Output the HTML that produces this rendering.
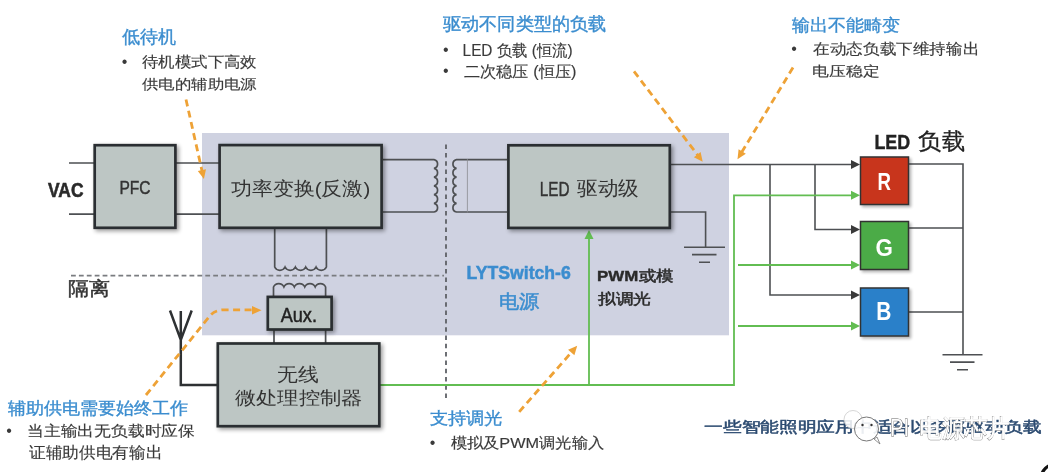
<!DOCTYPE html>
<html><head><meta charset="utf-8">
<style>
html,body{margin:0;padding:0;background:#fff;}
body{width:1048px;height:472px;position:relative;overflow:hidden;font-family:"Liberation Sans",sans-serif;}
svg{position:absolute;left:0;top:0;font-family:"Liberation Sans",sans-serif;filter:blur(0.3px);}
</style></head><body>
<svg width="1048" height="472" viewBox="0 0 1048 472">
<defs>
<filter id="sh" x="-10%" y="-10%" width="130%" height="130%">
<feGaussianBlur in="SourceAlpha" stdDeviation="2"/><feOffset dx="1.8" dy="2.2"/>
<feComponentTransfer><feFuncA type="linear" slope="0.4"/></feComponentTransfer>
<feMerge><feMergeNode/><feMergeNode in="SourceGraphic"/></feMerge></filter>
<filter id="sh2" x="-10%" y="-10%" width="130%" height="130%">
<feGaussianBlur in="SourceAlpha" stdDeviation="1.4"/><feOffset dx="1.5" dy="1.5"/>
<feComponentTransfer><feFuncA type="linear" slope="0.3"/></feComponentTransfer>
<feMerge><feMergeNode/><feMergeNode in="SourceGraphic"/></feMerge></filter>
</defs>
<rect x="202" y="133" width="527" height="202.3" fill="#cfd2e1"/>
<line x1="71" y1="275.6" x2="444" y2="275.6" stroke="#7a7c80" stroke-width="1.8" stroke-dasharray="4.8 3.1"/>
<line x1="446" y1="144.6" x2="446" y2="402" stroke="#5e6166" stroke-width="1.8" stroke-dasharray="4.5 3.8"/>
<g fill="none" stroke="#4e5053" stroke-width="1.7"><path d="M69 163H94M69 214.2H94"/><path d="M176 163H219M176 214.2H219"/><path d="M383 159.7H434a4.45 4.45 0 0 1 0 8.72a4.45 4.45 0 0 1 0 8.72a4.45 4.45 0 0 1 0 8.72a4.45 4.45 0 0 1 0 8.72a4.45 4.45 0 0 1 0 8.72a4.45 4.45 0 0 1 0 8.72H383"/><path d="M507 159.7H456.5a4.45 4.45 0 0 0 0 8.72a4.45 4.45 0 0 0 0 8.72a4.45 4.45 0 0 0 0 8.72a4.45 4.45 0 0 0 0 8.72a4.45 4.45 0 0 0 0 8.72a4.45 4.45 0 0 0 0 8.72H507"/><path d="M274.7 229V267a5.7 5.7 0 0 0 10.34 0a5.7 5.7 0 0 0 10.34 0a5.7 5.7 0 0 0 10.34 0a5.7 5.7 0 0 0 10.34 0a5.7 5.7 0 0 0 10.34 0V229"/><path d="M273.5 296V287a5.7 5.7 0 0 1 10.42 0a5.7 5.7 0 0 1 10.42 0a5.7 5.7 0 0 1 10.42 0a5.7 5.7 0 0 1 10.42 0a5.7 5.7 0 0 1 10.42 0V296"/><path d="M274 330V343M325.6 330V343"/></g>
<line x1="467.4" y1="159" x2="467.4" y2="212.5" stroke="#8a8c92" stroke-width="0.8"/>
<g fill="none" stroke="#4e5053" stroke-width="1.6"><path d="M671 164.5H853"/><path d="M770 164.5V295H853"/><path d="M815 164.5V229.5H853"/><path d="M909 164H963V354.8M909 228H963M909 312H963"/><path d="M671 212H705.6V247.2"/><path d="M684 247.2H725M692 254.6H716.5M699 262.2H710"/><path d="M942.5 354.8H982.5M950 362.1H974.5M957 369.8H968"/></g>
<g fill="#3a3a3a"><path d="M860 164.5L851 160L851 169Z"/><path d="M860 229.5L851 225L851 234Z"/><path d="M860 295L851 290.5L851 299.5Z"/></g>
<g fill="none" stroke="#62bd52" stroke-width="1.8"><path d="M380 385H734V195.3H853"/><path d="M738 265H853M738 326H853"/><path d="M589 385V238"/></g>
<g fill="#62bd52"><path d="M860 195.3L851 190.8L851 199.8Z"/><path d="M860 265L851 260.5L851 269.5Z"/><path d="M860 326L851 321.5L851 330.5Z"/><path d="M589 230L584.5 239L593.5 239Z"/></g>
<g fill="none" stroke="#2e3133" stroke-width="2.5"><path d="M170 310.5L180.8 340L191.7 310.5M180.8 311V385H217"/></g>
<g fill="#bdc6c4" stroke="#2b2f31" stroke-width="2.7" filter="url(#sh)">
<rect x="94.7" y="145.2" width="80.7" height="82.6"/>
<rect x="219.6" y="145.1" width="162" height="82.7"/>
<rect x="508.4" y="145.3" width="161.4" height="82.6"/>
<rect x="267.8" y="296.9" width="63.8" height="32.6"/>
<rect x="217.8" y="343.5" width="161.5" height="82.7"/>
</g>
<g stroke="#333" stroke-width="1.5" filter="url(#sh2)">
<rect x="860.5" y="157" width="48" height="47.5" fill="#c8361f"/>
<rect x="860.5" y="221.5" width="48" height="48" fill="#4cab47"/>
<rect x="860.5" y="288" width="48" height="48" fill="#2a80c9"/>
</g>
<path d="M186.0 99.5L202.1 171.2" fill="none" stroke="#eea236" stroke-width="2.8" stroke-dasharray="7 4.5"/><path d="M203.9 179.0L197.8 171.1L206.0 169.3Z" fill="#eea236"/>
<path d="M634.0 71.4L697.9 155.4" fill="none" stroke="#eea236" stroke-width="2.8" stroke-dasharray="7 4.5"/><path d="M702.7 161.8L693.9 157.2L700.6 152.1Z" fill="#eea236"/>
<path d="M793.0 67.6L741.6 152.4" fill="none" stroke="#eea236" stroke-width="2.8" stroke-dasharray="7 4.5"/><path d="M737.5 159.2L738.6 149.3L745.8 153.7Z" fill="#eea236"/>
<path d="M519.2 411.8L571.9 351.8" fill="none" stroke="#eea236" stroke-width="2.8" stroke-dasharray="7 4.5"/><path d="M577.2 345.8L574.4 355.3L568.1 349.8Z" fill="#eea236"/>
<path d="M146 395L209 317Q214 310 224 309.8H252" fill="none" stroke="#eea236" stroke-width="2.8" stroke-dasharray="7 4.5"/>
<path d="M261.6 310.2L252 306L252 314.4Z" fill="#eea236"/>
<circle cx="1056" cy="479" r="15" fill="none" stroke="#111" stroke-width="3.2"/>
<text id="h1" x="121.50" y="43.00" font-size="17.75" font-weight="normal" fill="#3b8dcf" stroke="#3b8dcf" stroke-width="0.35" textLength="54.20" lengthAdjust="spacingAndGlyphs" style="white-space:pre;">低待机</text>
<text id="b1" x="121.80" y="67.00" font-size="16.00" font-weight="normal" fill="#3a3a3a" style="white-space:pre;">•</text>
<text id="s1a" x="142.00" y="66.70" font-size="15.01" font-weight="normal" fill="#3a3a3a" stroke="#3a3a3a" stroke-width="0.15" textLength="114.83" lengthAdjust="spacingAndGlyphs" style="white-space:pre;">待机模式下高效</text>
<text id="s1b" x="142.00" y="88.70" font-size="14.11" font-weight="normal" fill="#3a3a3a" stroke="#3a3a3a" stroke-width="0.15" textLength="114.80" lengthAdjust="spacingAndGlyphs" style="white-space:pre;">供电的辅助电源</text>
<text id="h2" x="443.00" y="30.20" font-size="17.68" font-weight="normal" fill="#3b8dcf" stroke="#3b8dcf" stroke-width="0.35" textLength="163.22" lengthAdjust="spacingAndGlyphs" style="white-space:pre;">驱动不同类型的负载</text>
<text id="b2a" x="442.90" y="55.40" font-size="16.00" font-weight="normal" fill="#3a3a3a" style="white-space:pre;">•</text>
<text id="b2b" x="442.90" y="76.40" font-size="16.00" font-weight="normal" fill="#3a3a3a" style="white-space:pre;">•</text>
<text id="s2a" x="462.60" y="56.30" font-size="16.00" font-weight="normal" fill="#3a3a3a" stroke="#3a3a3a" stroke-width="0.15" textLength="109.99" lengthAdjust="spacingAndGlyphs" style="white-space:pre;">LED 负载 (恒流)</text>
<text id="s2b" x="463.60" y="76.50" font-size="16.00" font-weight="normal" fill="#3a3a3a" stroke="#3a3a3a" stroke-width="0.15" textLength="112.91" lengthAdjust="spacingAndGlyphs" style="white-space:pre;">二次稳压 (恒压)</text>
<text id="h3" x="792.00" y="30.50" font-size="16.76" font-weight="normal" fill="#3b8dcf" stroke="#3b8dcf" stroke-width="0.35" textLength="108.20" lengthAdjust="spacingAndGlyphs" style="white-space:pre;">输出不能畸变</text>
<text id="b3" x="791.20" y="54.30" font-size="16.00" font-weight="normal" fill="#3a3a3a" style="white-space:pre;">•</text>
<text id="s3a" x="813.20" y="54.30" font-size="15.48" font-weight="normal" fill="#3a3a3a" stroke="#3a3a3a" stroke-width="0.15" textLength="165.96" lengthAdjust="spacingAndGlyphs" style="white-space:pre;">在动态负载下维持输出</text>
<text id="s3b" x="812.20" y="75.50" font-size="14.31" font-weight="normal" fill="#3a3a3a" stroke="#3a3a3a" stroke-width="0.15" textLength="67.32" lengthAdjust="spacingAndGlyphs" style="white-space:pre;">电压稳定</text>
<text id="vac" x="48.00" y="197.20" font-size="21.11" font-weight="bold" fill="#2a2a2a" stroke="#2a2a2a" stroke-width="0.6" textLength="35.46" lengthAdjust="spacingAndGlyphs" style="white-space:pre;">VAC</text>
<text id="pfc" x="119.40" y="194.00" font-size="18.91" font-weight="normal" fill="#333" stroke="#333" stroke-width="0.45" textLength="31.12" lengthAdjust="spacingAndGlyphs" style="white-space:pre;">PFC</text>
<text id="pwr" x="230.90" y="194.60" font-size="18.65" font-weight="normal" fill="#333" textLength="139.34" lengthAdjust="spacingAndGlyphs" style="white-space:pre;">功率变换(反激)</text>
<text id="led1" x="539.70" y="195.60" font-size="20.54" font-weight="normal" fill="#333" stroke="#333" stroke-width="0.45" textLength="29.78" lengthAdjust="spacingAndGlyphs" style="white-space:pre;">LED</text>
<text id="drv" x="577.00" y="194.90" font-size="20.25" font-weight="normal" fill="#333" textLength="61.61" lengthAdjust="spacingAndGlyphs" style="white-space:pre;">驱动级</text>
<text id="led2" x="874.40" y="148.50" font-size="20.87" font-weight="bold" fill="#222" stroke="#222" stroke-width="0.4" textLength="35.78" lengthAdjust="spacingAndGlyphs" style="white-space:pre;">LED</text>
<text id="load" x="918.30" y="148.50" font-size="23.23" font-weight="normal" fill="#222" stroke="#222" stroke-width="0.3" textLength="46.57" lengthAdjust="spacingAndGlyphs" style="white-space:pre;">负载</text>
<text id="R" x="877.40" y="190.10" font-size="23.93" font-weight="bold" fill="#fff" textLength="13.46" lengthAdjust="spacingAndGlyphs" style="white-space:pre;">R</text>
<text id="G" x="875.50" y="256.00" font-size="24.01" font-weight="bold" fill="#fff" textLength="17.37" lengthAdjust="spacingAndGlyphs" style="white-space:pre;">G</text>
<text id="B" x="876.20" y="320.00" font-size="25.29" font-weight="bold" fill="#fff" textLength="15.13" lengthAdjust="spacingAndGlyphs" style="white-space:pre;">B</text>
<text id="iso" x="68.40" y="295.10" font-size="19.18" font-weight="normal" fill="#333" stroke="#333" stroke-width="0.45" textLength="41.91" lengthAdjust="spacingAndGlyphs" style="white-space:pre;">隔离</text>
<text id="aux" x="280.70" y="321.90" font-size="20.43" font-weight="normal" fill="#222" stroke="#222" stroke-width="0.5" textLength="36.28" lengthAdjust="spacingAndGlyphs" style="white-space:pre;">Aux.</text>
<text id="mcu1" x="277.20" y="380.90" font-size="19.10" font-weight="normal" fill="#333" textLength="41.71" lengthAdjust="spacingAndGlyphs" style="white-space:pre;">无线</text>
<text id="mcu2" x="234.60" y="404.00" font-size="18.14" font-weight="normal" fill="#333" textLength="128.06" lengthAdjust="spacingAndGlyphs" style="white-space:pre;">微处理控制器</text>
<text id="lyt" x="466.60" y="279.30" font-size="18.84" font-weight="bold" fill="#3b8dcf" stroke="#3b8dcf" stroke-width="0.5" textLength="104.19" lengthAdjust="spacingAndGlyphs" style="white-space:pre;">LYTSwitch-6</text>
<text id="lyt2" x="499.30" y="307.50" font-size="19.25" font-weight="normal" fill="#3b8dcf" stroke="#3b8dcf" stroke-width="0.5" textLength="40.39" lengthAdjust="spacingAndGlyphs" style="white-space:pre;">电源</text>
<text id="pwm" x="597.10" y="280.80" font-size="14.91" font-weight="bold" fill="#2a2a2a" stroke="#2a2a2a" stroke-width="0.4" textLength="41.21" lengthAdjust="spacingAndGlyphs" style="white-space:pre;">PWM</text>
<text id="pwm2" x="638.50" y="280.80" font-size="14.56" font-weight="normal" fill="#2a2a2a" stroke="#2a2a2a" stroke-width="0.5" textLength="34.89" lengthAdjust="spacingAndGlyphs" style="white-space:pre;">或模</text>
<text id="pwm3" x="597.90" y="304.30" font-size="14.69" font-weight="normal" fill="#2a2a2a" stroke="#2a2a2a" stroke-width="0.5" textLength="53.36" lengthAdjust="spacingAndGlyphs" style="white-space:pre;">拟调光</text>
<text id="h4" x="7.80" y="413.50" font-size="17.34" font-weight="normal" fill="#3b8dcf" stroke="#3b8dcf" stroke-width="0.35" textLength="180.60" lengthAdjust="spacingAndGlyphs" style="white-space:pre;">辅助供电需要始终工作</text>
<text id="b4" x="6.20" y="436.20" font-size="16.00" font-weight="normal" fill="#3a3a3a" style="white-space:pre;">•</text>
<text id="s4a" x="27.00" y="436.00" font-size="14.77" font-weight="normal" fill="#3a3a3a" stroke="#3a3a3a" stroke-width="0.15" textLength="167.97" lengthAdjust="spacingAndGlyphs" style="white-space:pre;">当主输出无负载时应保</text>
<text id="s4b" x="29.00" y="457.50" font-size="15.75" font-weight="normal" fill="#3a3a3a" stroke="#3a3a3a" stroke-width="0.15" textLength="133.39" lengthAdjust="spacingAndGlyphs" style="white-space:pre;">证辅助供电有输出</text>
<text id="h5" x="429.50" y="424.40" font-size="16.69" font-weight="normal" fill="#3b8dcf" stroke="#3b8dcf" stroke-width="0.35" textLength="73.08" lengthAdjust="spacingAndGlyphs" style="white-space:pre;">支持调光</text>
<text id="b5" x="429.80" y="448.20" font-size="16.00" font-weight="normal" fill="#3a3a3a" style="white-space:pre;">•</text>
<text id="s5" x="450.50" y="447.70" font-size="15.01" font-weight="normal" fill="#3a3a3a" stroke="#3a3a3a" stroke-width="0.15" textLength="153.81" lengthAdjust="spacingAndGlyphs" style="white-space:pre;">模拟及PWM调光输入</text>
<text id="bot" x="704.10" y="432.20" font-size="15.38" font-weight="normal" fill="#2b4a70" stroke="#2b4a70" stroke-width="0.5" textLength="337.20" lengthAdjust="spacingAndGlyphs" style="white-space:pre;">一些智能照明应用中适合以多路驱动负载</text>
<g>
<circle cx="853" cy="419.5" r="9" fill="#fff" fill-opacity="0.85" stroke="#ccc" stroke-width="0.8"/>
<circle cx="866.5" cy="429" r="12" fill="#fff" fill-opacity="0.9" stroke="#777" stroke-width="1"/>
<path d="M874 439L880 444L877 437Z" fill="#fff" stroke="#777" stroke-width="0.8"/>
<circle cx="862.5" cy="425" r="1.2" fill="#333"/><circle cx="871.5" cy="425" r="1.2" fill="#333"/>
<text x="890" y="436" font-size="24" textLength="19" lengthAdjust="spacingAndGlyphs" fill="#fff" stroke="#666" stroke-width="0.9" paint-order="stroke">PI</text>
<text x="919" y="437" font-size="25" textLength="91" lengthAdjust="spacingAndGlyphs" fill="#fff" stroke="#777" stroke-width="0.9" paint-order="stroke">电源芯片</text>
<text x="919.6" y="436.4" font-size="25" textLength="91" lengthAdjust="spacingAndGlyphs" fill="#fff" fill-opacity="0.85">电源芯片</text>
</g>

</svg>
</body></html>
